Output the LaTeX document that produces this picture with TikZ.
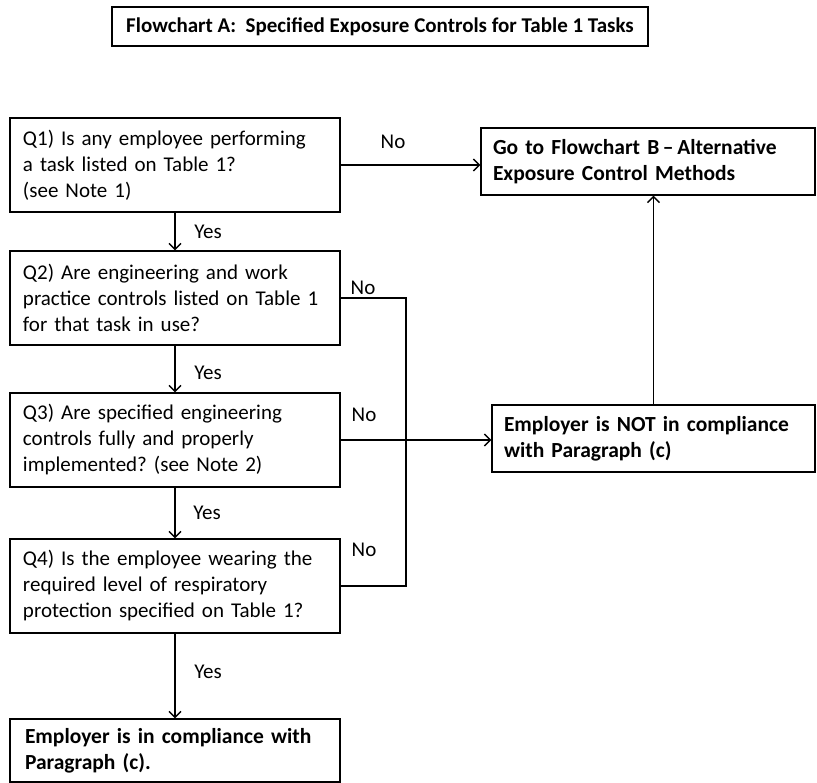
\documentclass[tikz,border=0pt]{standalone}
\usepackage{fontspec}
\setmainfont{Carlito}
\usetikzlibrary{arrows.meta,positioning}
\frenchspacing

\begin{document}
\begin{tikzpicture}[
  x=1pt,y=-1pt,
  font=\fontsize{21}{26}\selectfont,
  line width=1.3pt,
  >={Straight Barb[length=6pt,width=12pt]},
  qbox/.style={draw, line width=1.4pt, align=left, inner xsep=13pt, inner ysep=0pt,
               text width=304pt, minimum height=94pt},
  outbox/.style={draw, line width=1.4pt, align=left, inner xsep=12pt, inner ysep=0pt,
                 minimum height=67pt, font=\fontsize{21.5}{26}\selectfont\bfseries},
  hdr/.style={draw, line width=1.4pt, align=center, inner sep=0pt,
              minimum width=536pt, minimum height=39pt,
              font=\fontsize{21}{25}\selectfont\bfseries},
  tag/.style={inner sep=0pt},
]
\useasboundingbox (0,0) rectangle (817,783);

% ---------------- Title ----------------
\node[hdr] (title) at (380,26.5)
{Flowchart A:\ \ Specified Exposure Controls for Table 1 Tasks};

% ---------------- Question column ----------------
\def\xq{175}

\node[qbox] (q1) at (\xq,165)
{Q1) Is any employee performing\\
a task listed on Table 1?\\
(see Note 1)};

\node[qbox] (q2) at (\xq,298)
{Q2) Are engineering and work\\
practice controls listed on Table 1\\
for that task in use?};

\node[qbox] (q3) at (\xq,440)
{Q3) Are specified engineering\\
controls fully and properly\\
implemented? (see Note 2)};

\node[qbox] (q4) at (\xq,586)
{Q4) Is the employee wearing the\\
required level of respiratory\\
protection specified on Table 1?};

\node[outbox, text width=300pt, inner xsep=15pt, minimum height=63pt] (ok) at (\xq,750.5)
{Employer is in compliance with\\
Paragraph (c).};

% ---------------- Outcomes on the right ----------------
\node[outbox, text width=310pt] (flowb) at (648,161.5)
{Go to Flowchart B\,–\,Alternative\\
Exposure Control Methods};

\node[outbox, text width=299pt] (notc) at (653.5,438.5)
{Employer is NOT in compliance\\
with Paragraph (c)};

% ---------------- Yes arrows ----------------
\draw[->] (q1.south) -- (q2.north);
\draw[->] (q2.south) -- (q3.north);
\draw[->] (q3.south) -- (q4.north);
\draw[->] (q4.south) -- (ok.north);

\node[tag] (yes1) at (208,232) {Yes};
\node[tag] (yes2) at (208,373) {Yes};
\node[tag] (yes3) at (207,513) {Yes};
\node[tag] (yes4) at (208,672) {Yes};

% ---------------- No branches ----------------
\coordinate (jn) at (406,438);

\draw[->] (q1.east) -- (q1.east -| flowb.west);
\draw[->] (q3.east) -- (q3.east -| notc.west);
\draw (q2.east) -| (jn) |- (q4.east);
\draw[->] (notc.north) -- (notc.north |- flowb.south);

\node[tag] (no1) at (393,142) {No};
\node[tag] (no2) at (363,288) {No};
\node[tag] (no3) at (364,415) {No};
\node[tag] (no4) at (364,550) {No};

\end{tikzpicture}
\end{document}
